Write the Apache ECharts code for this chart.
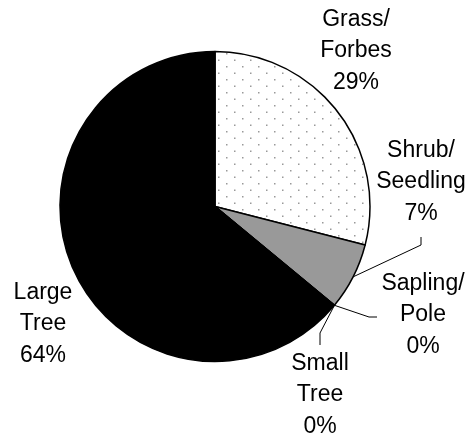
<!DOCTYPE html>
<html>
<head>
<meta charset="utf-8">
<script src="https://cdn.jsdelivr.net/npm/echarts@6/dist/echarts.min.js"></script>
<style>
  html, body { margin: 0; padding: 0; background: #fff; }
  #chart { width: 476px; height: 443px; }
</style>
</head>
<body>
<div id="chart"></div>
<script>
const categories = ['Grass/\nForbes', 'Shrub/\nSeedling', 'Sapling/\nPole', 'Small\nTree', 'Large\nTree'];
const values = [29, 7, 0, 0, 64];

// label centre positions (px) and whether a leader line is drawn
const labelPos = [[356, 51], [421, 182], [423, 315], [320, 395], [43, 324]];
const showLine = [false, true, true, true, false];

// dotted fill for grass/forbes
const dots = document.createElement('canvas');
dots.width = 16;
dots.height = 13;
const ctx = dots.getContext('2d');
ctx.fillStyle = '#fff';
ctx.fillRect(0, 0, 16, 13);
ctx.fillStyle = '#999';
ctx.fillRect(2, 1, 1.5, 1.5);
ctx.fillRect(10, 7.5, 1.5, 1.5);

const colors = [{ image: dots, repeat: 'repeat' }, '#999999', '#cccccc', '#666666', '#000000'];

const chart = echarts.init(document.getElementById('chart'));

chart.setOption({
  animation: false,
  series: [
    {
      type: 'pie',
      center: [215, 206.5],
      radius: 155,
      startAngle: 90,
      clockwise: true,
      avoidLabelOverlap: false,
      itemStyle: { borderColor: '#000', borderWidth: 1.5 },
      label: {
        show: true,
        position: 'outside',
        formatter: (p) => p.name + '\n' + Math.round(p.percent) + '%',
        fontFamily: 'Liberation Sans, Arial, sans-serif',
        fontSize: 23,
        lineHeight: 31.5,
        color: '#000',
      },
      labelLine: { lineStyle: { color: '#000', width: 1 } },
      labelLayout: (params) => {
        const i = params.dataIndex;
        const [lx, ly] = labelPos[i];
        const out = { x: lx, y: ly, align: 'center', verticalAlign: 'middle' };
        const start = params.labelLinePoints ? params.labelLinePoints[0] : null;
        if (start && i === 1) {
          out.labelLinePoints = [start, [lx, ly + 63], [lx, ly + 55]];
        } else if (start && i === 2) {
          out.labelLinePoints = [start, [lx - 54, ly + 2], [lx - 46, ly + 2]];
        } else if (start && i === 3) {
          out.labelLinePoints = [start, [lx, ly - 62], [lx, ly - 50]];
        }
        return out;
      },
      data: categories.map((name, i) => ({
        name,
        value: values[i],
        itemStyle: { color: colors[i] },
        labelLine: { show: showLine[i] },
      })),
    },
  ],
});
</script>
</body>
</html>
